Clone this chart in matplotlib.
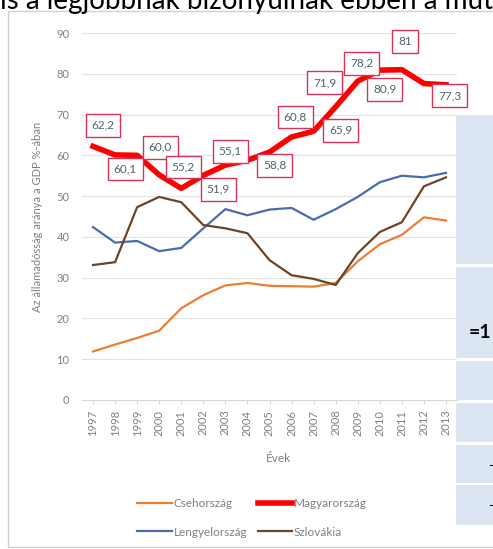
import matplotlib
matplotlib.use("Agg")
import matplotlib.pyplot as plt
from matplotlib.patches import Rectangle
from matplotlib.lines import Line2D

# Államadósság a GDP %-ában, 1997-2013
years = [str(y) for y in range(1997, 2014)]
cseh = [11.9, 13.6, 15.2, 17.0, 22.5, 25.7, 28.1, 28.7, 28.0, 27.9, 27.8, 28.7, 34.0, 38.2, 40.5, 44.8, 44.0]
magyar = [62.2, 60.1, 60.0, 55.2, 51.9, 55.1, 57.6, 58.8, 60.8, 64.5, 65.9, 71.9, 78.2, 80.9, 81.0, 77.6, 77.3]
lengyel = [42.4, 38.6, 39.0, 36.5, 37.3, 42.1, 46.8, 45.3, 46.7, 47.1, 44.2, 46.8, 49.8, 53.4, 55.0, 54.6, 55.7]
szlovak = [33.1, 33.8, 47.3, 49.8, 48.5, 42.9, 42.1, 40.9, 34.3, 30.6, 29.7, 28.2, 36.0, 41.2, 43.6, 52.4, 54.6]
# adatfeliratok (None = nincs felirat)
magyar_labels = ["62,2", "60,1", "60,0", "55,2", "51,9", "55,1", None, "58,8", "60,8",
                 None, "65,9", "71,9", "78,2", "80,9", "81", None, "77,3"]
yticks = [0, 10, 20, 30, 40, 50, 60, 70, 80, 90]

# label box offsets in pixels (dx right, dy up)
label_offsets = [(10, 21), (10, -14), (23, 8), (24, 8), (37, -1), (27, 24), None, (27, -5), (26, 35),
                 None, (27, 1), (-11, 24), (4, 18), (5, -19), (3, 28), None, (4, -11)]

W, H = 493, 549
GRAY = "#808080"
plt.rcParams["font.family"] = ["Lato", "DejaVu Sans"]

fig = plt.figure(figsize=(W / 100, H / 100), dpi=100)
ax = fig.add_axes([82 / W, 1 - 400 / H, 375 / W, 367 / H])

x = list(range(len(years)))
ax.plot(x, cseh, color="#ED7D31", lw=1.6, zorder=3)
ax.plot(x, lengyel, color="#4A6BAF", lw=1.6, zorder=3)
ax.plot(x, szlovak, color="#6B4528", lw=1.6, zorder=3)
ax.plot(x, magyar, color="#FF0000", lw=4.0, zorder=4, solid_joinstyle="round")

for i, lab in enumerate(magyar_labels):
    if lab is None:
        continue
    dx, dy = label_offsets[i]
    ax.annotate(lab, (x[i], magyar[i]), xytext=(dx, dy), textcoords="offset pixels",
                ha="center", va="center", fontsize=8.5, color="#4E6470", zorder=6,
                bbox=dict(boxstyle="square,pad=0.5", fc="white", ec="#D9335A", lw=1.0))

ax.set_xlim(-0.5, len(years) - 0.5)
ax.set_ylim(0, 90)
ax.set_yticks(yticks)
ax.set_xticks(x)
ax.set_xticklabels(years, rotation=90)
ax.grid(axis="y", color="#E3E3E3", lw=0.8)
ax.set_axisbelow(True)
for s in ["top", "right", "left"]:
    ax.spines[s].set_visible(False)
ax.spines["bottom"].set_color("#D9D9D9")
ax.tick_params(axis="y", length=0, pad=9, labelsize=8, labelcolor=GRAY)
ax.tick_params(axis="x", length=3, color="#D9D9D9", pad=4, labelsize=8, labelcolor=GRAY)

fig.text(38 / W, 1 - 217 / H, "Az államadósság aránya a GDP %-ában", rotation=90,
         ha="center", va="center", fontsize=8, color=GRAY)
fig.text(278 / W, 1 - 458 / H, "Évek", ha="center", va="center", fontsize=8.5, color=GRAY)

handles = [Line2D([], [], color="#ED7D31", lw=1.6), Line2D([], [], color="#4A6BAF", lw=1.6),
           Line2D([], [], color="#FF0000", lw=4.0), Line2D([], [], color="#6B4528", lw=1.6)]
names = ["Csehország", "Lengyelország", "Magyarország", "Szlovákia"]
leg = fig.legend(handles, names, ncol=2, loc="center", bbox_to_anchor=(252 / W, 1 - 518 / H),
                 frameon=False, fontsize=8.5, handlelength=2.9, handletextpad=0.15,
                 columnspacing=0.9, labelspacing=1.45)
for t in leg.get_texts():
    t.set_color(GRAY)

# chart frame
fig.add_artist(Rectangle((8 / W, 1 - 547 / H), 2, (547 - 11) / H, transform=fig.transFigure,
                         fill=False, ec="#D0D0D0", lw=1.0, zorder=1))

# overlapping table cells on the right
cells = [(115, 264), (267, 358), (361, 400), (403, 442), (445, 483), (485, 525)]
for y0, y1 in cells:
    fig.add_artist(Rectangle((456 / W, 1 - y1 / H), 1, (y1 - y0) / H, transform=fig.transFigure,
                             fc="#DCE6F2", ec="none", zorder=5))
fig.text(469 / W, 1 - 333 / H, "=1", fontsize=14, fontweight="bold", color="black",
         ha="left", va="center", zorder=6)
fig.text(488 / W, 1 - 466 / H, "-", fontsize=10, color="black", ha="left", va="center", zorder=6)
fig.text(488 / W, 1 - 506 / H, "-", fontsize=10, color="black", ha="left", va="center", zorder=6)

# cut-off document text above the chart
fig.text(0, 1 - 9 / H, "is a legjobbnak bizonyulnak ebben a mutatóban", fontsize=20,
         color="black", ha="left", va="baseline")

fig.savefig("out.png", dpi=100)
